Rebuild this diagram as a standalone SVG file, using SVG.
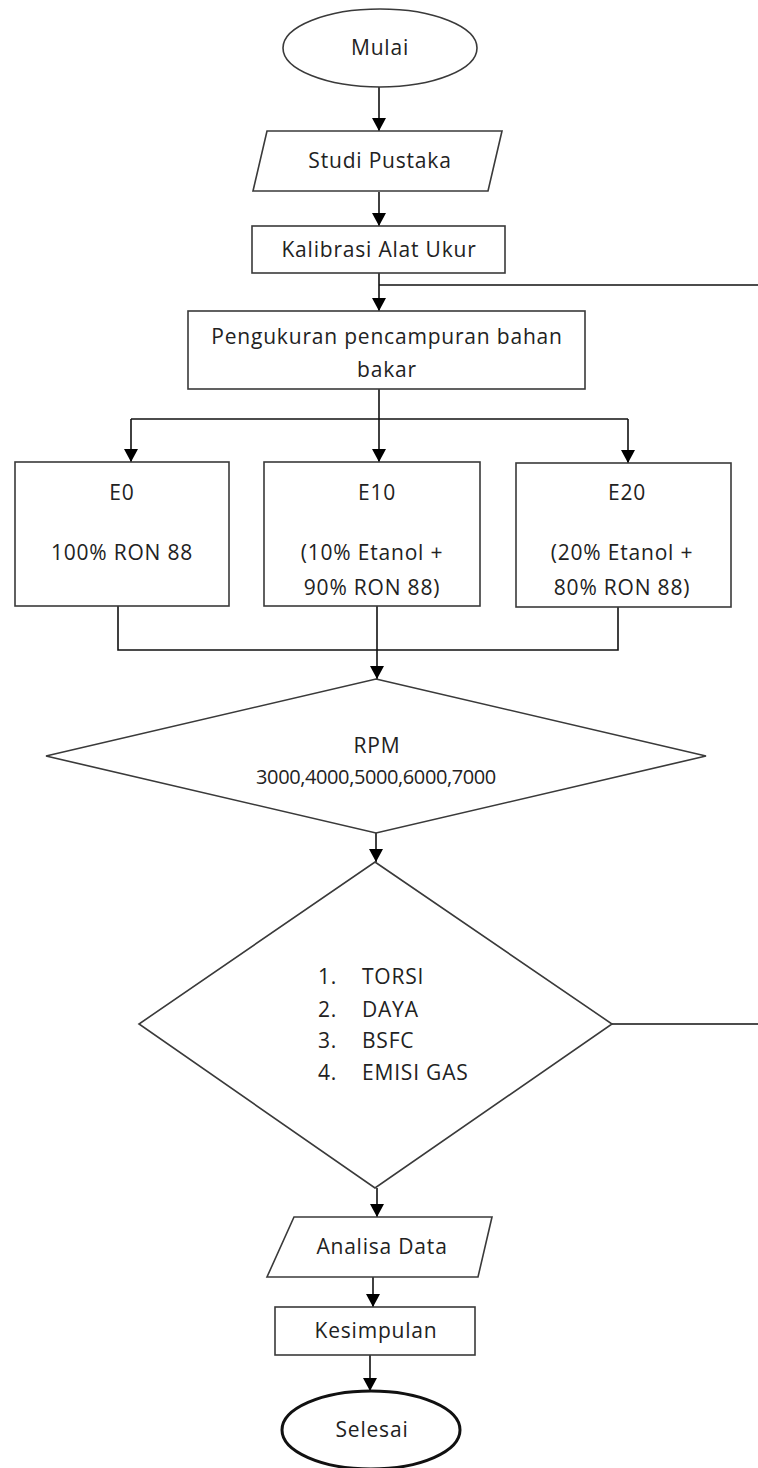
<svg xmlns="http://www.w3.org/2000/svg" width="758" height="1468" viewBox="0 0 758 1468">
<style>
.s{fill:#fff;stroke:#3a3a3a;stroke-width:1.6}
.t{font-family:"Open Sans","Liberation Sans",sans-serif;font-size:21px;letter-spacing:0.8px;fill:#222;text-anchor:middle}
.l{font-family:"Open Sans","Liberation Sans",sans-serif;font-size:21px;letter-spacing:0.8px;fill:#222}
.n{font-family:"Open Sans","Liberation Sans",sans-serif;font-size:20px;letter-spacing:-0.4px;fill:#222;text-anchor:middle}
.c{fill:none;stroke:#111;stroke-width:1.6}
</style>
<defs>
<marker id="ad" markerUnits="userSpaceOnUse" markerWidth="14" markerHeight="14" viewBox="0 0 14 14" refX="13" refY="7" orient="auto">
<path d="M0,0 L13,7 L0,14 Z" fill="#000"/>
</marker>
</defs>
<rect width="758" height="1468" fill="#fff"/>
<g id="connectors">
<path class="c" d="M379,87 V131" marker-end="url(#ad)"/>
<path class="c" d="M379,192 V226" marker-end="url(#ad)"/>
<path class="c" d="M379,273 V311" marker-end="url(#ad)"/>
<path class="c" d="M379,285 H758"/>
<path class="c" d="M379,389 V419"/>
<path class="c" d="M131,419 H628"/>
<path class="c" d="M131,419 V462" marker-end="url(#ad)"/>
<path class="c" d="M379,419 V462" marker-end="url(#ad)"/>
<path class="c" d="M628,419 V463" marker-end="url(#ad)"/>
<path class="c" d="M118,606 V650 H618 V607"/>
<path class="c" d="M377,606 V679" marker-end="url(#ad)"/>
<path class="c" d="M376,833 V862" marker-end="url(#ad)"/>
<path class="c" d="M612,1024 H758"/>
<path class="c" d="M377,1188 V1217" marker-end="url(#ad)"/>
<path class="c" d="M373,1277 V1307" marker-end="url(#ad)"/>
<path class="c" d="M370,1355 V1391" marker-end="url(#ad)"/>
</g>
<g id="mulai">
<ellipse class="s" cx="380" cy="48" rx="97" ry="39"/>
<text class="t" x="380" y="55">Mulai</text>
</g>
<g id="studi-pustaka">
<polygon class="s" points="267,131 502,131 488,191 253,191"/>
<text class="t" x="380" y="168">Studi Pustaka</text>
</g>
<g id="kalibrasi">
<rect class="s" x="252" y="226" width="253" height="47"/>
<text class="t" x="379" y="257">Kalibrasi Alat Ukur</text>
</g>
<g id="pengukuran">
<rect class="s" x="188" y="311" width="397" height="78"/>
<text class="t" x="387" y="344">Pengukuran pencampuran bahan</text>
<text class="t" x="387" y="377">bakar</text>
</g>
<g id="e0">
<rect class="s" x="15" y="462" width="214" height="144"/>
<text class="t" x="122" y="500">E0</text>
<text class="t" x="122" y="560">100% RON 88</text>
</g>
<g id="e10">
<rect class="s" x="264" y="462" width="216" height="144"/>
<text class="t" x="377" y="500">E10</text>
<text class="t" x="372" y="560">(10% Etanol +</text>
<text class="t" x="372" y="595">90% RON 88)</text>
</g>
<g id="e20">
<rect class="s" x="516" y="463" width="215" height="144"/>
<text class="t" x="627" y="500">E20</text>
<text class="t" x="622" y="560">(20% Etanol +</text>
<text class="t" x="622" y="595">80% RON 88)</text>
</g>
<g id="rpm">
<polygon class="s" points="376,679 706,756 376,833 46,756"/>
<text class="t" x="377" y="753">RPM</text>
<text class="n" x="376" y="784">3000,4000,5000,6000,7000</text>
</g>
<g id="parameter">
<polygon class="s" points="375,862 612,1024 375,1188 139,1024"/>
<text class="l" x="318" y="984">1.</text><text class="l" x="362" y="984">TORSI</text>
<text class="l" x="318" y="1017">2.</text><text class="l" x="362" y="1017">DAYA</text>
<text class="l" x="318" y="1048">3.</text><text class="l" x="362" y="1048">BSFC</text>
<text class="l" x="318" y="1080">4.</text><text class="l" x="362" y="1080">EMISI GAS</text>
</g>
<g id="analisa">
<polygon class="s" points="294,1217 492,1217 478,1277 267,1277"/>
<text class="t" x="382" y="1254">Analisa Data</text>
</g>
<g id="kesimpulan">
<rect class="s" x="275" y="1307" width="200" height="48"/>
<text class="t" x="376" y="1338">Kesimpulan</text>
</g>
<g id="selesai">
<ellipse cx="371" cy="1430" rx="89" ry="39" fill="#fff" stroke="#111" stroke-width="3"/>
<text class="t" x="372" y="1437">Selesai</text>
</g>
</svg>
